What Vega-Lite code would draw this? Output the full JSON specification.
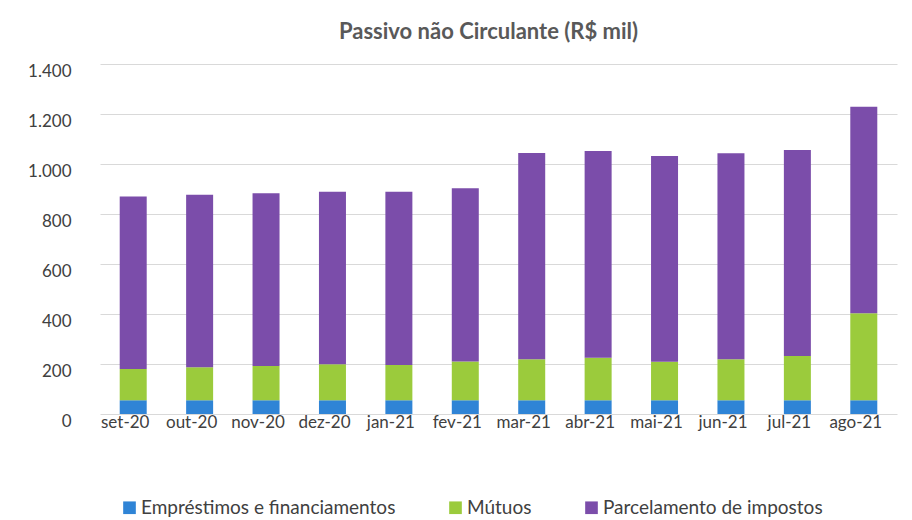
{
  "$schema": "https://vega.github.io/schema/vega-lite/v6.json",
  "width": 797,
  "height": 350,
  "padding": {"left": 100, "top": 64, "right": 15, "bottom": 106},
  "autosize": {"type": "none"},
  "background": "white",
  "config": {
    "locale": {"number": {"decimal": ",", "thousands": ".", "grouping": [3], "currency": ["R$", ""]}},
    "font": "Lato",
    "view": {"stroke": null}
  },
  "title": {
    "text": "Passivo não Circulante (R$ mil)",
    "font": "Lato",
    "fontSize": 22,
    "fontWeight": "bold",
    "color": "#595959",
    "anchor": "middle",
    "dx": -10,
    "offset": 18
  },
  "data": {
    "values": [
      {"mes": "set-20", "serie": "Empréstimos e financiamentos", "valor": 55},
      {"mes": "set-20", "serie": "Mútuos", "valor": 125},
      {"mes": "set-20", "serie": "Parcelamento de impostos", "valor": 690},
      {"mes": "out-20", "serie": "Empréstimos e financiamentos", "valor": 55},
      {"mes": "out-20", "serie": "Mútuos", "valor": 132},
      {"mes": "out-20", "serie": "Parcelamento de impostos", "valor": 690},
      {"mes": "nov-20", "serie": "Empréstimos e financiamentos", "valor": 55},
      {"mes": "nov-20", "serie": "Mútuos", "valor": 137},
      {"mes": "nov-20", "serie": "Parcelamento de impostos", "valor": 691},
      {"mes": "dez-20", "serie": "Empréstimos e financiamentos", "valor": 55},
      {"mes": "dez-20", "serie": "Mútuos", "valor": 144},
      {"mes": "dez-20", "serie": "Parcelamento de impostos", "valor": 690},
      {"mes": "jan-21", "serie": "Empréstimos e financiamentos", "valor": 55},
      {"mes": "jan-21", "serie": "Mútuos", "valor": 141},
      {"mes": "jan-21", "serie": "Parcelamento de impostos", "valor": 693},
      {"mes": "fev-21", "serie": "Empréstimos e financiamentos", "valor": 55},
      {"mes": "fev-21", "serie": "Mútuos", "valor": 155},
      {"mes": "fev-21", "serie": "Parcelamento de impostos", "valor": 693},
      {"mes": "mar-21", "serie": "Empréstimos e financiamentos", "valor": 55},
      {"mes": "mar-21", "serie": "Mútuos", "valor": 164},
      {"mes": "mar-21", "serie": "Parcelamento de impostos", "valor": 825},
      {"mes": "abr-21", "serie": "Empréstimos e financiamentos", "valor": 55},
      {"mes": "abr-21", "serie": "Mútuos", "valor": 170},
      {"mes": "abr-21", "serie": "Parcelamento de impostos", "valor": 827},
      {"mes": "mai-21", "serie": "Empréstimos e financiamentos", "valor": 55},
      {"mes": "mai-21", "serie": "Mútuos", "valor": 154},
      {"mes": "mai-21", "serie": "Parcelamento de impostos", "valor": 823},
      {"mes": "jun-21", "serie": "Empréstimos e financiamentos", "valor": 55},
      {"mes": "jun-21", "serie": "Mútuos", "valor": 164},
      {"mes": "jun-21", "serie": "Parcelamento de impostos", "valor": 824},
      {"mes": "jul-21", "serie": "Empréstimos e financiamentos", "valor": 55},
      {"mes": "jul-21", "serie": "Mútuos", "valor": 177},
      {"mes": "jul-21", "serie": "Parcelamento de impostos", "valor": 824},
      {"mes": "ago-21", "serie": "Empréstimos e financiamentos", "valor": 55},
      {"mes": "ago-21", "serie": "Mútuos", "valor": 348},
      {"mes": "ago-21", "serie": "Parcelamento de impostos", "valor": 826}
    ]
  },
  "mark": {"type": "bar", "size": 27},
  "encoding": {
    "x": {
      "field": "mes",
      "type": "nominal",
      "sort": null,
      "axis": {
        "title": null,
        "labelAngle": 0,
        "labelFont": "Lato",
        "labelFontSize": 17,
        "labelColor": "#404040",
        "labelOffset": -8,
        "domain": false,
        "ticks": false,
        "labelPadding": 0
      }
    },
    "y": {
      "field": "valor",
      "type": "quantitative",
      "aggregate": "sum",
      "stack": "zero",
      "scale": {"domain": [0, 1400]},
      "axis": {
        "title": null,
        "values": [0, 200, 400, 600, 800, 1000, 1200, 1400],
        "format": ",d",
        "labelFont": "Lato",
        "labelFontSize": 17,
        "labelColor": "#404040",
        "labelOffset": 7,
        "domain": false,
        "ticks": false,
        "labelPadding": 29,
        "gridColor": "#D9D9D9",
        "gridWidth": 1
      }
    },
    "color": {
      "field": "serie",
      "type": "nominal",
      "scale": {
        "domain": ["Empréstimos e financiamentos", "Mútuos", "Parcelamento de impostos"],
        "range": ["#2F84D6", "#9BCB3C", "#7B4DAA"]
      },
      "legend": {
        "title": null,
        "orient": "none",
        "direction": "horizontal",
        "legendX": 20,
        "legendY": 434,
        "symbolType": "square",
        "symbolSize": 160,
        "symbolStrokeWidth": 0,
        "labelFont": "Lato",
        "labelFontSize": 19,
        "labelColor": "#404040",
        "labelOffset": 2,
        "labelLimit": 0,
        "columnPadding": 50
      }
    },
    "order": {"field": "serie", "sort": "ascending"}
  }
}
